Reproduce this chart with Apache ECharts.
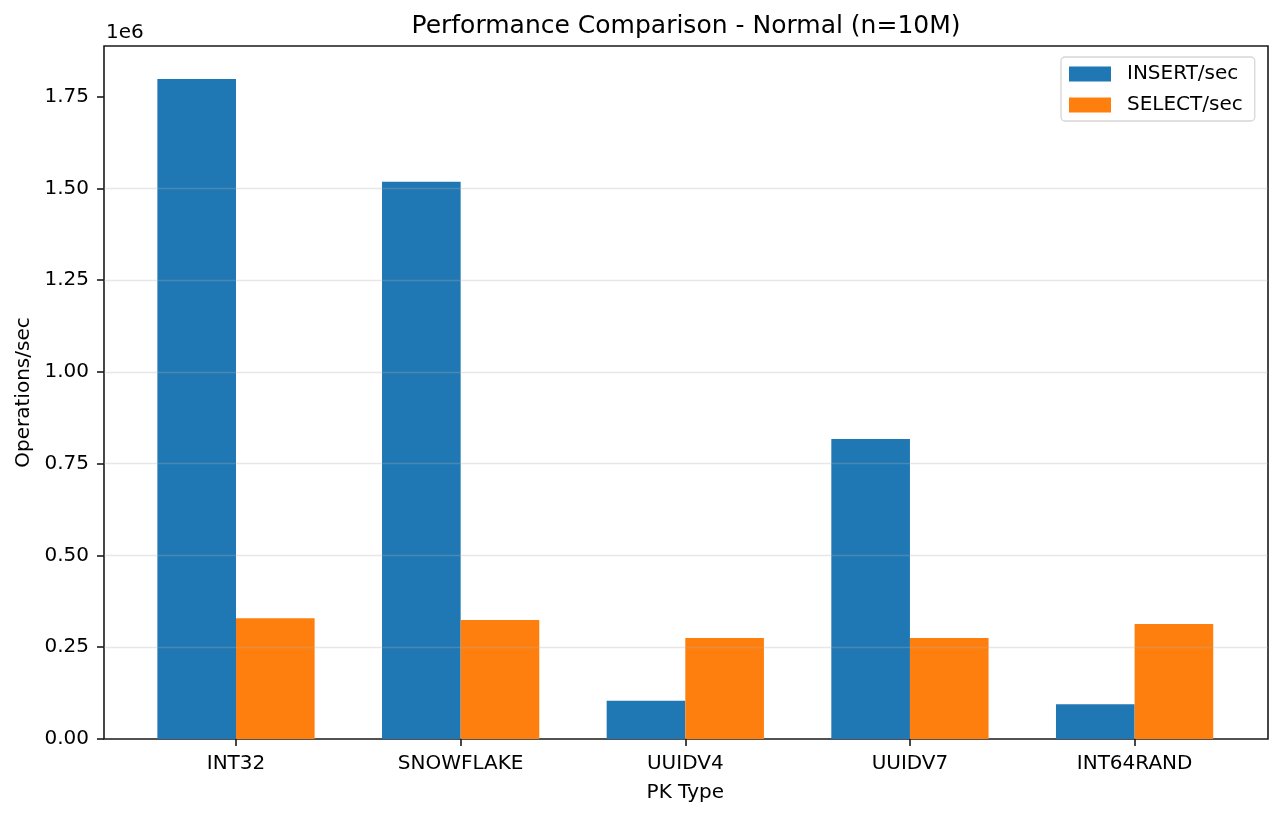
<!DOCTYPE html>
<html>
<head>
<meta charset="utf-8">
<script src="https://cdn.jsdelivr.net/npm/echarts@6/dist/echarts.min.js"></script>
<style>
html,body{margin:0;padding:0;background:#fff;}
#chart{width:1281px;height:817px;}
</style>
</head>
<body>
<div id="chart"></div>
<script>
const categories = ['INT32', 'SNOWFLAKE', 'UUIDV4', 'UUIDV7', 'INT64RAND'];
const insertPerSec = [1798000, 1518000, 104000, 817000, 95000];
const selectPerSec = [329000, 324000, 275000, 275000, 313000];
const yTickValues = [0, 250000, 500000, 750000, 1000000, 1250000, 1500000, 1750000];
const seriesNames = ['INSERT/sec', 'SELECT/sec'];

const FONT = 'DejaVu Sans';
const yMax = Math.max(...insertPerSec, ...selectPerSec) * 1.05;

const chart = echarts.init(document.getElementById('chart'), null, {renderer: 'canvas'});
const frame = {left: 104, top: 46, width: 1164, height: 693};
const bandW = 224.65;
const barGrid = {left: 236 - bandW / 2, top: 46, width: bandW * 5, height: 693};

chart.setOption({
  animation: false,
  backgroundColor: '#ffffff',
  title: [
    {text: 'Performance Comparison - Normal (n=10M)', left: 686, top: 14, textAlign: 'center', padding: 0,
     textStyle: {fontFamily: FONT, fontSize: 25, fontWeight: 'normal', color: '#000'}},
    {text: '1e6', left: 106, top: 23, padding: 0,
     textStyle: {fontFamily: FONT, fontSize: 20, fontWeight: 'normal', color: '#000'}}
  ],
  legend: {
    data: seriesNames,
    orient: 'vertical',
    left: 1061, top: 57,
    padding: [7, 12, 6, 8],
    itemWidth: 42, itemHeight: 15, itemGap: 11,
    icon: 'rect',
    backgroundColor: '#fff',
    borderColor: '#d6d6d6', borderWidth: 1.3, borderRadius: 4,
    textStyle: {fontFamily: FONT, fontSize: 20, color: '#000', padding: [0, 0, 0, 11], lineHeight: 20}
  },
  grid: [
    Object.assign({show: true, borderColor: '#1a1a1a', borderWidth: 1.6, backgroundColor: 'transparent'}, frame),
    Object.assign({show: false}, barGrid)
  ],
  xAxis: [
    {gridIndex: 0, type: 'value', min: 0, max: 1, show: false},
    {gridIndex: 1, type: 'category', data: categories,
     axisLine: {show: false},
     axisTick: {show: true, alignWithLabel: true, length: 7, lineStyle: {color: '#1a1a1a', width: 1.6}},
     axisLabel: {fontFamily: FONT, fontSize: 20, color: '#000', margin: 15},
     name: 'PK Type', nameLocation: 'middle', nameGap: 44,
     nameTextStyle: {fontFamily: FONT, fontSize: 20, color: '#000'}}
  ],
  yAxis: [
    {gridIndex: 0, type: 'value', min: 0, max: yMax, interval: 250000, z: 5,
     axisLine: {show: false},
     axisTick: {show: true, length: 7, customValues: yTickValues, lineStyle: {color: '#1a1a1a', width: 1.6}},
     axisLabel: {fontFamily: FONT, fontSize: 20, color: '#000', margin: 15, customValues: yTickValues,
                 formatter: v => (v / 1e6).toFixed(2)},
     splitLine: {show: true, showMinLine: false, showMaxLine: false, lineStyle: {color: 'rgba(176,176,176,0.3)', width: 1.3}},
     name: 'Operations/sec', nameLocation: 'middle', nameGap: 69, nameRotate: 90,
     nameTextStyle: {fontFamily: FONT, fontSize: 20, color: '#000'}},
    {gridIndex: 1, type: 'value', min: 0, max: yMax, show: false}
  ],
  series: [
    {name: seriesNames[0], type: 'bar', xAxisIndex: 1, yAxisIndex: 1, data: insertPerSec,
     barWidth: '35%', barGap: '0%', itemStyle: {color: '#1f77b4'}},
    {name: seriesNames[1], type: 'bar', xAxisIndex: 1, yAxisIndex: 1, data: selectPerSec,
     barWidth: '35%', barGap: '0%', itemStyle: {color: '#ff7f0e'}}
  ]
});
</script>
</body>
</html>
